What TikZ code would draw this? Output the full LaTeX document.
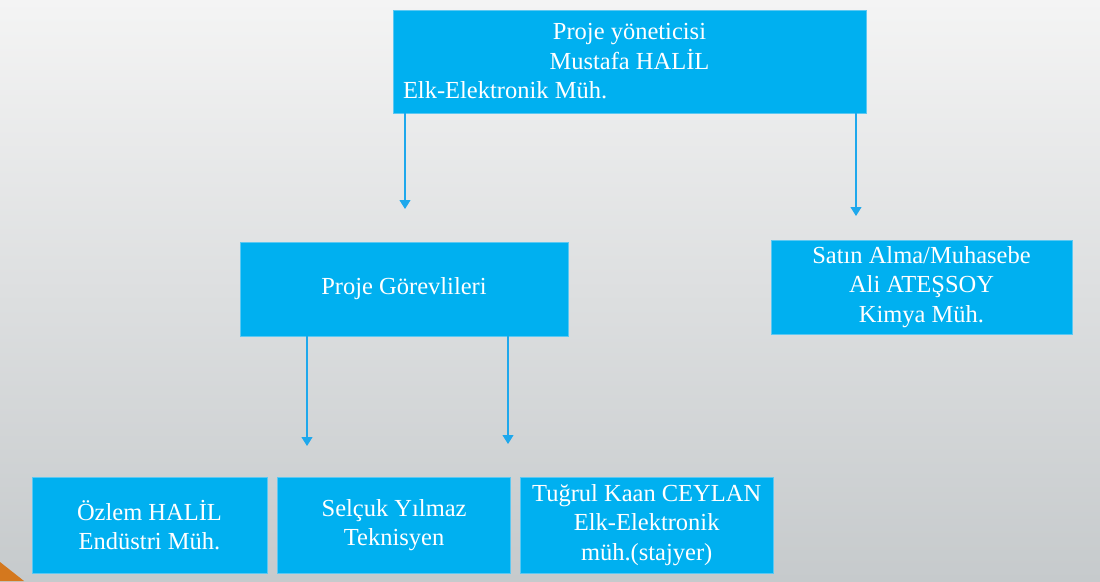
\documentclass[tikz,border=0pt]{standalone}
\usepackage{fontspec}
\setmainfont{Liberation Serif}
\usepackage{xcolor}
\usepackage{tikz}
\usetikzlibrary{arrows.meta,positioning}
\definecolor{boxblue}{HTML}{00B0F0}
\definecolor{boxedge}{HTML}{5CC8F2}
\definecolor{arrblue}{HTML}{1EA8EC}
\definecolor{bgtop}{HTML}{F4F4F4}
\definecolor{bgbot}{HTML}{C6CACC}
\definecolor{accent}{HTML}{D4781E}

\begin{document}
\begin{tikzpicture}[x=1pt,y=-1pt,node distance=10pt,
 unit/.style={draw=boxedge,line width=0.6pt,fill=boxblue,text=white,inner sep=0pt,
 align=center,font=\fontsize{24.5}{29.5}\selectfont},
 link/.style={draw=arrblue,line width=1.1pt,-{Triangle[width=11pt,length=9pt]}}]
 \useasboundingbox (0,0) rectangle (1100,581);
 \shade[top color=bgtop,bottom color=bgbot] (0,0) rectangle (1100,581);
 \fill[accent] (0,562) -- (24,581) -- (0,581) -- cycle;

 % management
 \node[unit,minimum width=473pt,minimum height=103pt] (boss) at (629.5,61.5)
  {\parbox{453pt}{\centering Proje yöneticisi\\Mustafa HALİL\par
  \raggedright Elk-Elektronik Müh.}};
 \node[unit,minimum width=328pt,minimum height=94pt] (staff) at (404,289) {Proje Görevlileri};
 \node[unit,minimum width=301pt,minimum height=94pt] (buy) at (921.5,287)
  {Satın Alma/Muhasebe\\Ali ATEŞSOY\\Kimya Müh.};

 % team
 \node[unit,minimum width=235pt,minimum height=96pt] (p1) at (149.5,525) {Özlem HALİL\\Endüstri Müh.};
 \node[unit,minimum width=233pt,minimum height=96pt,right=of p1] (p2) {Selçuk Yılmaz\\Teknisyen};
 \node[unit,minimum width=253pt,minimum height=96pt,right=9pt of p2] (p3)
  {Tuğrul Kaan CEYLAN\\Elk-Elektronik\\müh.(stajyer)};

 \coordinate (e1) at (405,209);
 \coordinate (e2) at (856,216);
 \coordinate (e3) at (307,446);
 \coordinate (e4) at (508,444);
 \draw[link] (boss.south -| e1) -- (e1);
 \draw[link] (boss.south -| e2) -- (e2);
 \draw[link] (staff.south -| e3) -- (e3);
 \draw[link] (staff.south -| e4) -- (e4);
\end{tikzpicture}
\end{document}
